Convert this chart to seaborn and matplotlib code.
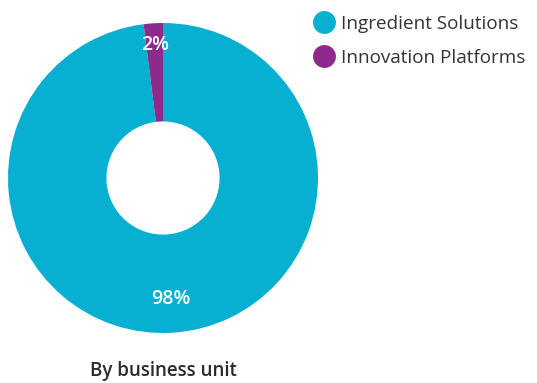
import matplotlib
matplotlib.use("Agg")
import matplotlib.pyplot as plt
from matplotlib.lines import Line2D
import seaborn as sns

# data
units = ["Ingredient Solutions", "Innovation Platforms"]
shares = [98, 2]
colors = ["#07AFD1", "#8C2B8B"]
title = "By business unit"

sns.set_theme(style="white")
plt.rcParams['font.family'] = ['Open Sans', 'DejaVu Sans']

fig = plt.figure(figsize=(5.37, 3.83), dpi=100)
W, H = 537, 383
cx, cy, r = 163, 178, 155
ax = fig.add_axes([(cx - r) / W, (H - cy - r) / H, 2 * r / W, 2 * r / H])

wedges, texts, autotexts = ax.pie(
    shares, colors=colors, startangle=90, counterclock=False,
    autopct='%d%%', pctdistance=0.82,
    wedgeprops=dict(width=0.635, edgecolor='none'),
    textprops=dict(color='white', fontsize=14, fontweight='semibold'))
# nudge labels a bit like the original
autotexts[0].set_position((autotexts[0].get_position()[0] * 0.95, autotexts[0].get_position()[1] * 0.95))
autotexts[1].set_position((autotexts[1].get_position()[0] * 1.05, autotexts[1].get_position()[1] * 1.05))
ax.set_xlim(-1, 1)
ax.set_ylim(-1, 1)
ax.set_aspect('equal')
ax.axis('off')

fig.text(cx / W, 1 - 371 / H, title, ha='center', va='center',
         fontsize=13.5, color='#2b2b2b', fontweight='semibold')

handles = [Line2D([0], [0], marker='o', linestyle='none', markersize=16.5,
                  markerfacecolor=c, markeredgecolor='none') for c in colors]
fig.legend(handles, units, loc='upper left', bbox_to_anchor=(304 / W, 1 - 7 / H),
           frameon=False, fontsize=13.6, labelcolor='#333333',
           handletextpad=0.25, labelspacing=0.85, borderaxespad=0, handlelength=1.3)

fig.savefig("out.png", dpi=100)
